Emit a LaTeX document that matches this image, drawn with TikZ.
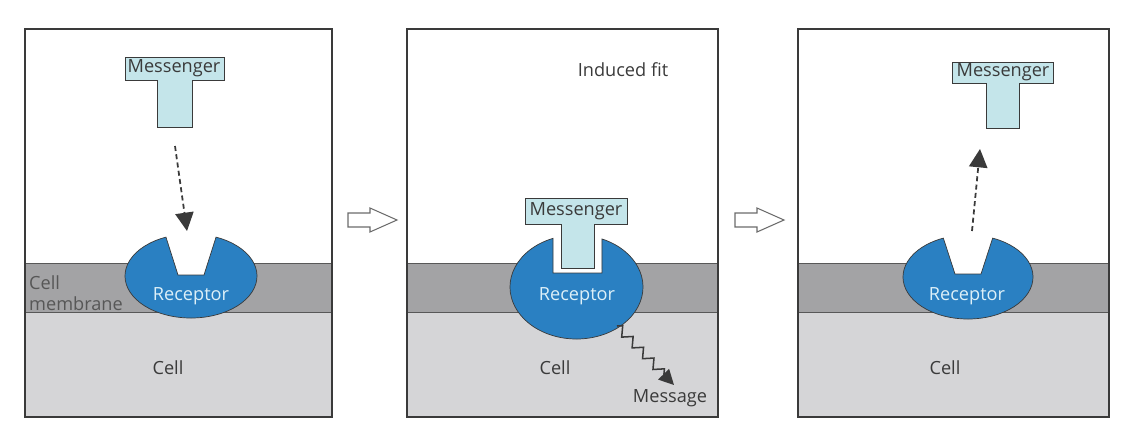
\documentclass[tikz,border=0pt]{standalone}
\usepackage{fontspec}
\setmainfont{Open Sans}
\usetikzlibrary{arrows.meta, decorations.pathmorphing}

\definecolor{recblue}{HTML}{2A80C2}
\definecolor{msgcyan}{HTML}{C4E5EA}
\definecolor{membgray}{HTML}{A3A3A5}
\definecolor{cellgray}{HTML}{D5D5D7}
\definecolor{inkgray}{HTML}{3A3A3A}
\definecolor{reclight}{HTML}{DDF0F8}

\tikzset{
  panel/.style={draw=inkgray, line width=1.1pt},
  memline/.style={draw=inkgray!85, line width=0.8pt},
  receptor/.style={fill=recblue, draw=inkgray, line width=0.6pt},
  messenger/.style={fill=msgcyan, draw=inkgray, line width=0.8pt},
  txt/.style={text=inkgray, inner sep=0pt},
  fall/.style={dashed, dash pattern=on 1.5mm off 1mm, line width=1.5pt, draw=inkgray,
    -{Triangle[length=5.5mm, width=5.5mm]}},
  hollow/.style={draw=inkgray!75, line width=0.9pt, fill=white},
}

\begin{document}
\begin{tikzpicture}[x=0.3mm, y=-0.3mm, font=\fontsize{15.5}{17.5}\selectfont]
  \useasboundingbox (0,0) rectangle (1128,433);
  % --- left panel: messenger on its way ---
  \begin{scope}[shift={(25,0)}]
    \fill[cellgray] (0,312) rectangle (307,417);
    \fill[membgray] (0,263) rectangle (307,312);
    \draw[memline] (0,263) -- (307,263) (0,312) -- (307,312);
    \fill[white] (141,237) -- (153,275) -- (179,275) -- (191,237) -- cycle;
    \draw[receptor] (166,276) ++(-67.7:66 and 42)
      arc[start angle=-67.7, end angle=247.7, x radius=66, y radius=42]
      -- (153,275) -- (179,275) -- cycle;
    \draw[messenger] (100,57) -- (199,57) -- (199,80) -- (167,80) -- (167,127)
      -- (132,127) -- (132,80) -- (100,80) -- cycle;
    \node[txt] (msgA) at (149,68) {Messenger};
    \node[txt, text=reclight] (recA) at (166,296) {Receptor};
    \node[txt] (cellA) at (143,368) {Cell};
    \node[txt, text=inkgray!85, align=left, anchor=west] (membA) at (4,293)
      {Cell\\membrane};
    \coordinate (tailA) at (150,146);
    \coordinate (tipA) at (162,231);
    \draw[fall] (tailA) -- (tipA);
    \draw[panel] (0,29) rectangle (307,417);
  \end{scope}
  % --- hollow arrow ---
  \draw[hollow] (348,213) -- (370,213) -- (370,208) -- (397,220) -- (370,232)
    -- (370,227) -- (348,227) -- cycle;
  % --- middle panel: induced fit ---
  \begin{scope}[shift={(407,0)}]
    \fill[cellgray] (0,312) rectangle (311,417);
    \fill[membgray] (0,263) rectangle (311,312);
    \draw[memline] (0,263) -- (311,263) (0,312) -- (311,312);
    \fill[white] (146,238) -- (146,273) -- (195,273) -- (195,238) -- cycle;
    \draw[receptor] (169.5,287) ++(-67.5:66.5 and 52)
      arc[start angle=-67.5, end angle=249.3, x radius=66.5, y radius=52]
      -- (146,273) -- (195,273) -- cycle;
    \draw[messenger] (118,198) -- (220,198) -- (220,224) -- (187,224) -- (187,268)
      -- (154,268) -- (154,224) -- (118,224) -- cycle;
    \node[txt] (msgB) at (169,211) {Messenger};
    \node[txt, text=reclight] (recB) at (170,296) {Receptor};
    \node[txt] (fitB) at (216,70) {Induced fit};
    \node[txt] (cellB) at (148,368) {Cell};
    \node[txt] (mesgB) at (263,398) {Message};
    \coordinate (waveB) at (210,326);
    \coordinate (endB) at (267,385);
    \draw[draw=inkgray, line width=1.3pt, -{Triangle[length=4.5mm, width=4.5mm]},
      decorate, decoration={zigzag, amplitude=1.3mm, segment length=4.5mm, post length=4mm}]
      (waveB) -- (endB);
    \draw[panel] (0,29) rectangle (311,417);
  \end{scope}
  % --- hollow arrow ---
  \draw[hollow] (735,213) -- (757,213) -- (757,208) -- (784,220) -- (757,232)
    -- (757,227) -- (735,227) -- cycle;
  % --- right panel: messenger released ---
  \begin{scope}[shift={(798,0)}]
    \fill[cellgray] (0,312) rectangle (311,417);
    \fill[membgray] (0,263) rectangle (311,312);
    \draw[memline] (0,263) -- (311,263) (0,312) -- (311,312);
    \fill[white] (145,238) -- (157,274) -- (183,274) -- (195,238) -- cycle;
    \draw[receptor] (170,277) ++(-67.7:65 and 42)
      arc[start angle=-67.7, end angle=247.7, x radius=65, y radius=42]
      -- (157,274) -- (183,274) -- cycle;
    \draw[messenger] (154,62) -- (255,62) -- (255,83) -- (221,83) -- (221,128)
      -- (188,128) -- (188,83) -- (154,83) -- cycle;
    \node[txt] (msgC) at (205,72) {Messenger};
    \node[txt, text=reclight] (recC) at (169,296) {Receptor};
    \node[txt] (cellC) at (147,368) {Cell};
    \coordinate (tailC) at (174,231);
    \coordinate (tipC) at (182,149);
    \draw[fall] (tailC) -- (tipC);
    \draw[panel] (0,29) rectangle (311,417);
  \end{scope}
\end{tikzpicture}
\end{document}
